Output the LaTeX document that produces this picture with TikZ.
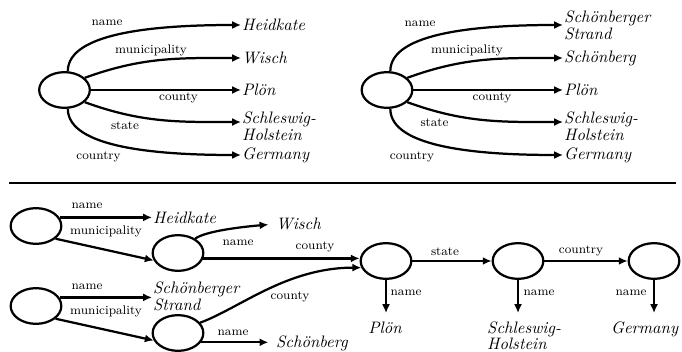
\documentclass[tikz,border=0pt]{standalone}
\usetikzlibrary{shapes.geometric,arrows.meta}
\begin{document}
\begin{tikzpicture}[x=0.6024pt,y=-0.6024pt,
  ent/.style={ellipse,draw,line width=1.35pt,minimum width=30.5pt,minimum height=21.5pt,inner sep=0pt},
  val/.style={font=\fontsize{10}{10.2}\selectfont\itshape,inner sep=0.5pt,anchor=west,align=left},
  bval/.style={font=\fontsize{10}{9.5}\selectfont\itshape,inner sep=0.5pt,align=left},
  lbl/.style={font=\fontsize{7.5}{8}\selectfont,inner sep=0pt},
  arr/.style={line width=1.35pt,-{Latex[length=5.3pt,width=4.8pt]}},
  rule/.style={line width=1.6pt},
  upcurve/.style={out=90,in=180,out distance=24pt,in distance=48pt},
  downcurve/.style={out=-90,in=180,out distance=24pt,in distance=48pt}
]
\useasboundingbox (0,0) rectangle (682,352);
% ---------- top left ----------
\node[ent] (a) at (64.5,90) {};
\node[val] (a1) at (241,25) {Heidkate};
\node[val] (a2) at (241,58) {Wisch};
\node[val] (a3) at (241,90) {Plön};
\node[val] (a4) at (241,126.5) {Schleswig-\\Holstein};
\node[val] (a5) at (241,155) {Germany};
\draw[arr] (a.80) to[upcurve] (a1.west);
\draw[arr] (a.31) to[out=20,in=180] (a2.west);
\draw[arr] (a.east) -- (a3.west);
\draw[arr] (a.-31) to[out=-20,in=180] ([yshift=2.7pt]a4.west);
\draw[arr] (a.-80) to[downcurve] (a5.west);
\node[lbl] (la1) at (107,23) {name};
\node[lbl] (la2) at (151,50) {municipality};
\node[lbl] (la3) at (178.5,98) {county};
\node[lbl] (la4) at (125,126) {state};
\node[lbl] (la5) at (98.5,157) {country};
% ---------- top right ----------
\node[ent] (c) at (387,90) {};
\node[val] (c1) at (563,25) {Schönberger\\Strand};
\node[val] (c2) at (563,58) {Schönberg};
\node[val] (c3) at (563,90) {Plön};
\node[val] (c4) at (563,126.5) {Schleswig-\\Holstein};
\node[val] (c5) at (563,155) {Germany};
\draw[arr] (c.80) to[upcurve] (c1.west);
\draw[arr] (c.31) to[out=20,in=180] (c2.west);
\draw[arr] (c.east) -- (c3.west);
\draw[arr] (c.-31) to[out=-20,in=180] ([yshift=2.7pt]c4.west);
\draw[arr] (c.-80) to[downcurve] (c5.west);
\node[lbl] (lc1) at (420,24) {name};
\node[lbl] (lc2) at (467,50) {municipality};
\node[lbl] (lc3) at (492,98) {county};
\node[lbl] (lc4) at (434.5,123) {state};
\node[lbl] (lc5) at (412,157) {country};
% ---------- rule ----------
\draw[rule] (9,183) -- (676,183);
% ---------- bottom ----------
\node[ent] (b1) at (36,226) {};
\node[ent] (b2) at (178,253) {};
\node[ent] (b3) at (36,306) {};
\node[ent] (b4) at (178,333) {};
\node[ent] (b5) at (386,261) {};
\node[ent] (b6) at (518,261) {};
\node[ent] (b7) at (654,261) {};
\node[val] (bh) at (152,217.6) {Heidkate};
\node[val] (bw) at (275,224) {Wisch};
\node[val] (bst) at (152,296.5) {Schönberger\\Strand};
\node[val] (bs) at (275,343) {Schönberg};
\node[bval,anchor=north] (bp) at (385,320.5) {Plön};
\node[bval,anchor=north west] (bsh) at (486,320.5) {Schleswig-\\Holstein};
\node[bval,anchor=north west] (bg) at (610,320.5) {Germany};
\draw[arr] (b1.20) -- (b1.20 -| bh.west);
\draw[arr] (b1.-33) -- (b2.197);
\draw[arr,shorten >=4pt] (b2.40) to[out=35,in=185,out distance=8pt,in distance=20pt] (bw.west);
\draw[arr] (b2.-12) -- (b2.-12 -| b5.west);
\draw[arr] (b3.20) -- (b3.20 -| bst.west);
\draw[arr] (b3.-33) -- (b4.197);
\draw[arr,shorten >=4pt] (b4.-22) -- (b4.-22 -| bs.west);
\draw[arr] (b4.25) to[out=20,in=180,out distance=25pt,in distance=45pt] (b5.195);
\draw[arr] (b5.east) -- (b6.west);
\draw[arr] (b6.east) -- (b7.west);
\draw[arr,shorten >=4.5pt] (b5.south) -- (b5.south |- bp.north);
\draw[arr,shorten >=4.5pt] (b6.south) -- (b6.south |- bsh.north);
\draw[arr,shorten >=4.5pt] (b7.south) -- (b7.south |- bg.north);
\node[lbl] (lb1) at (87,206) {name};
\node[lbl] (lb2) at (106,231) {municipality};
\node[lbl] (lb3) at (238,243) {name};
\node[lbl] (lb4) at (315,247) {county};
\node[lbl] (lb5) at (87,287) {name};
\node[lbl] (lb6) at (106,311) {municipality};
\node[lbl] (lb7) at (290,297) {county};
\node[lbl] (lb8) at (233,333) {name};
\node[lbl] (lb9) at (445,252) {state};
\node[lbl] (lb10) at (581,251) {country};
\node[lbl] (lb11) at (406,293) {name};
\node[lbl] (lb12) at (539,293) {name};
\node[lbl] (lb13) at (631,293) {name};
\end{tikzpicture}
\end{document}
